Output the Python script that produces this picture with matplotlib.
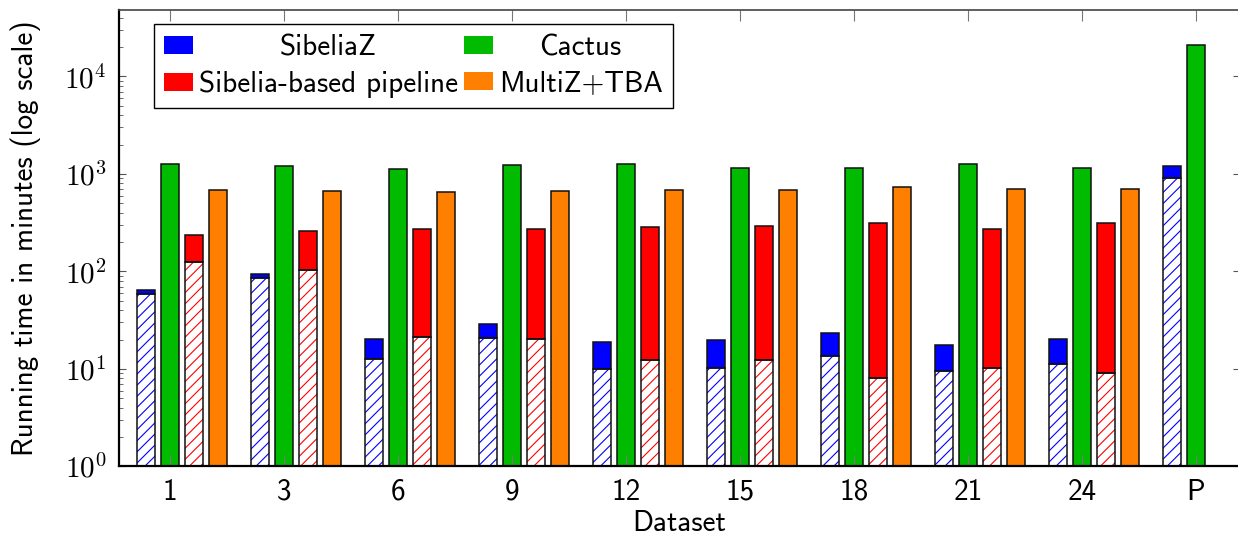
import matplotlib
matplotlib.use("Agg")
import matplotlib.pyplot as plt
import matplotlib.patches as mpatches
from matplotlib.ticker import FuncFormatter
import numpy as np

datasets = ['1', '3', '6', '9', '12', '15', '18', '21', '24', 'P']
sibeliaz_total = [64.7, 93.8, 20.3, 29.0, 18.8, 19.8, 23.3, 17.4, 20.5, 1205]
sibeliaz_part = [58.5, 86.6, 12.5, 20.9, 9.93, 10.3, 13.7, 9.47, 11.3, 908]
cactus = [1273, 1213, 1122, 1242, 1273, 1149, 1149, 1273, 1158, 21200]
sibelia_total = [234, 259, 274, 274, 285, 292, 315, 272, 315]
sibelia_part = [126, 104, 21.2, 20.2, 12.3, 12.3, 8.09, 10.1, 9.17]
multiz = [684, 662, 652, 662, 689, 677, 727, 705, 705]
ytick_vals = [1, 10, 100, 1000, 10000]

BLUE = '#0000ff'
GREEN = '#00bb00'
RED = '#ff0000'
ORANGE = '#ff8000'
FS = 21

plt.rcParams['font.family'] = ['cmss10', 'DejaVu Sans']
plt.rcParams['mathtext.fontset'] = 'cm'
plt.rcParams['axes.unicode_minus'] = False
plt.rcParams['hatch.linewidth'] = 0.8
plt.rcParams['font.size'] = FS

fig = plt.figure(figsize=(12.38, 5.38), dpi=100)
ax = fig.add_axes([0.0961, 0.1331, 0.9055, 0.8492])

x = np.arange(len(datasets))
xs = np.arange(len(sibelia_total))
w = 0.158
lw = 1.1

def stacked(ax, xpos, part, total, color):
    part = np.asarray(part)
    total = np.asarray(total)
    ax.bar(xpos, part, w, color='white', edgecolor=color, hatch='///', linewidth=0, zorder=1)
    ax.bar(xpos, part, w, fill=False, edgecolor='#111111', linewidth=lw, zorder=1.2)
    ax.bar(xpos, total - part, w, bottom=part, color=color, edgecolor='#111111', linewidth=lw, zorder=1.1)

stacked(ax, x - 0.209, sibeliaz_part, sibeliaz_total, BLUE)
ax.bar(x, cactus, w, color=GREEN, edgecolor='#111111', linewidth=lw, zorder=1.1)
stacked(ax, xs + 0.21, sibelia_part, sibelia_total, RED)
ax.bar(xs + 0.418, multiz, w, color=ORANGE, edgecolor='#111111', linewidth=lw, zorder=1.1)

ax.set_yscale('log')
ax.set_ylim(1, 10 ** 4.687)
ax.set_xlim(-0.447, 9.386)
ax.set_xticks(x)
ax.set_xticklabels(datasets)
ax.set_yticks(ytick_vals)
ax.yaxis.set_major_formatter(FuncFormatter(lambda v, p: r'$10^{%d}$' % int(round(np.log10(v)))))

ax.tick_params(axis='x', which='major', direction='in', top=True, bottom=True,
               length=8, width=0.8, color='#777777', pad=9, labelsize=FS)
ax.tick_params(axis='x', which='minor', bottom=False, top=False)
ax.tick_params(axis='y', which='major', direction='in', left=True, right=True,
               length=5, width=0.8, color='#555555', pad=9, labelsize=FS)
ax.tick_params(axis='y', which='minor', direction='in', left=True, right=False,
               length=3, width=0.6, color='#555555')

for s in ['left', 'bottom']:
    ax.spines[s].set_linewidth(1.6)
    ax.spines[s].set_color('black')
ax.spines['top'].set_linewidth(1.2)
ax.spines['top'].set_color('#444444')
ax.spines['right'].set_linewidth(1.2)

ax.set_xlabel('Dataset', fontsize=FS, labelpad=3)
ax.set_ylabel('Running time in minutes (log scale)', fontsize=FS, labelpad=17)

handles = [
    mpatches.Patch(facecolor=BLUE, edgecolor='none', label='SibeliaZ'),
    mpatches.Patch(facecolor=RED, edgecolor='none', label='Sibelia-based pipeline'),
    mpatches.Patch(facecolor=GREEN, edgecolor='none', label='Cactus'),
    mpatches.Patch(facecolor=ORANGE, edgecolor='none', label='MultiZ+TBA'),
]
leg = ax.legend(handles=handles, ncol=2, loc='upper left',
                bbox_to_anchor=(153.5 / 1238, 1 - 24 / 538), bbox_transform=fig.transFigure,
                fancybox=False, framealpha=1, edgecolor='black', fontsize=FS,
                handlelength=1.0, handleheight=0.57, handletextpad=0.2,
                columnspacing=0.2, labelspacing=0.32, borderpad=0.35, borderaxespad=0)
leg.get_frame().set_linewidth(1.0)

# center legend texts within their columns
fig.canvas.draw()
r = fig.canvas.get_renderer()
texts = leg.get_texts()
widths = [t.get_window_extent(r).width for t in texts]
for a, b in [(0, 1), (2, 3)]:
    cw = max(widths[a], widths[b])
    texts[a].set_x((cw - widths[a]) / 2)
    texts[b].set_x((cw - widths[b]) / 2)

fig.savefig('out.png', dpi=100)
